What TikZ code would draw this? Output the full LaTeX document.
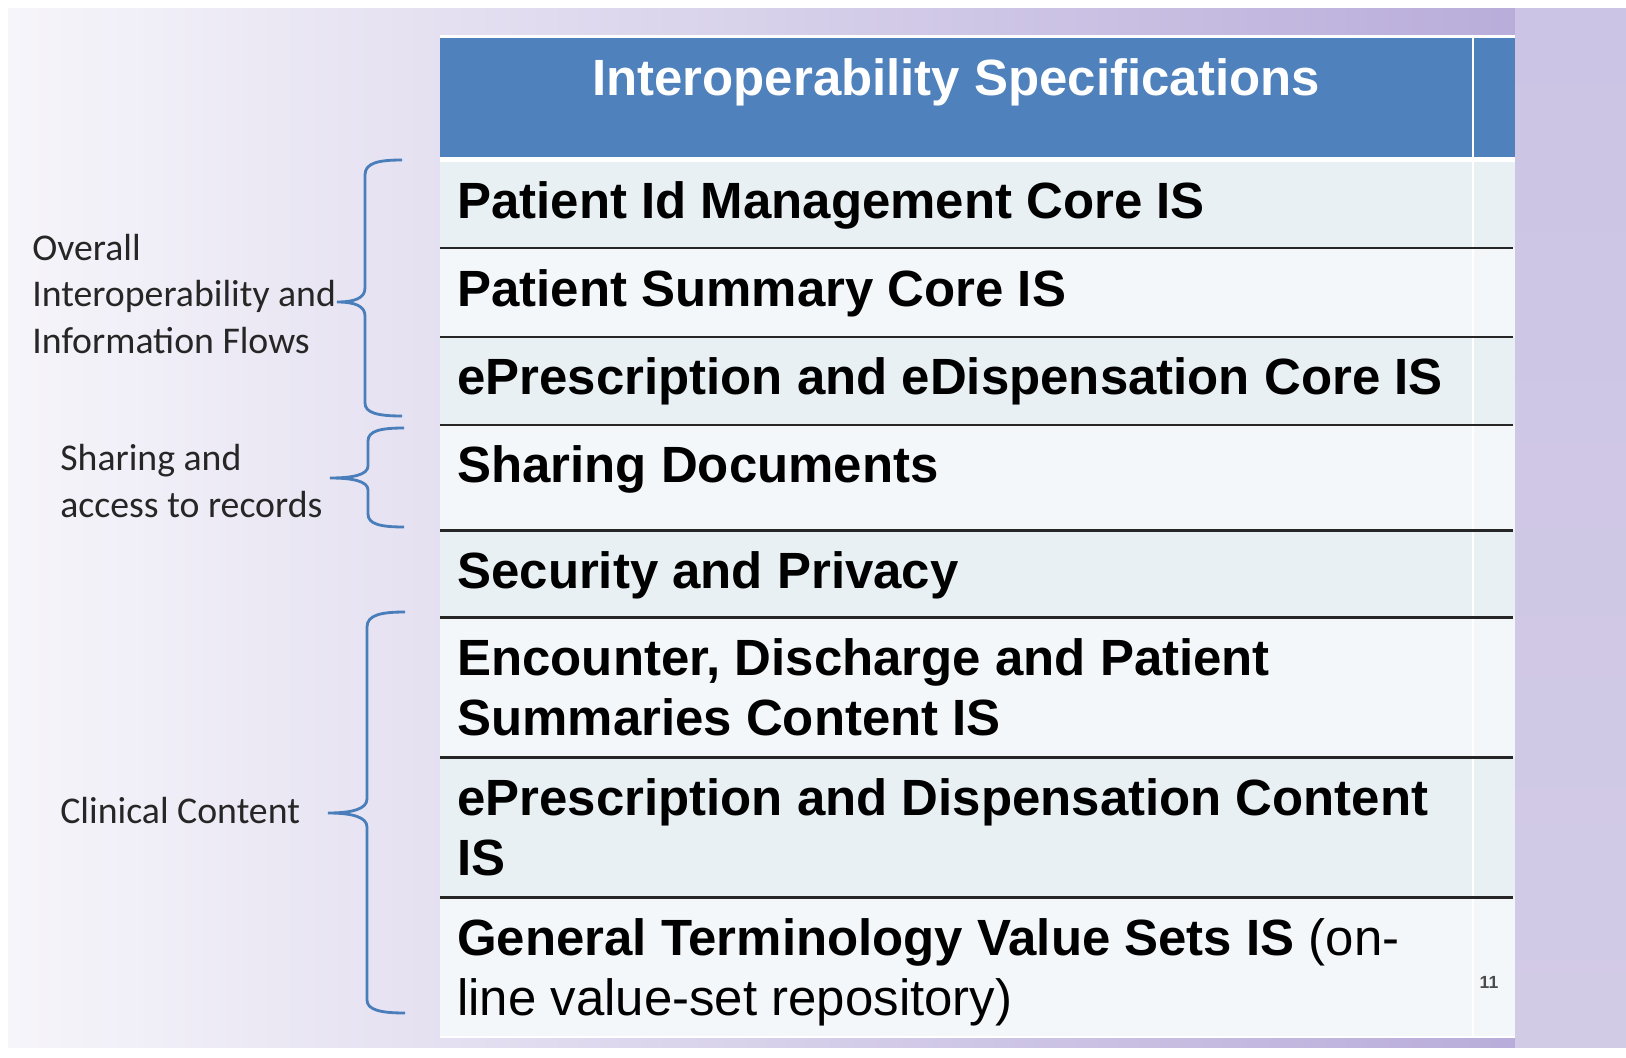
\documentclass[tikz,border=0pt]{standalone}
\usepackage{fontspec}
\setmainfont{Liberation Sans}
\newfontfamily\calibri{Carlito}
\usepackage{xcolor}
\usepackage{tikz}
\usetikzlibrary{positioning}

\definecolor{headblue}{HTML}{4F81BD}
\definecolor{banddark}{HTML}{E8F0F3}
\definecolor{bandlight}{HTML}{F3F7FA}
\definecolor{bracecol}{HTML}{4A7EBB}
\definecolor{lavlight}{HTML}{F6F5FA}
\definecolor{lavmid}{HTML}{E6E2F0}
\definecolor{lavdark}{HTML}{B4A7D8}
\definecolor{lavtop}{HTML}{CCC4E4}
\definecolor{lavbot}{HTML}{D2CBE6}
\definecolor{labelgray}{HTML}{262626}

\begin{document}
\begin{tikzpicture}[x=0.02cm, y=-0.02cm,
      cell/.style={anchor=base west, inner sep=0pt, align=left, font=\bfseries\fontsize{29}{34}\selectfont},
      head/.style={anchor=base, inner sep=0pt, text=white, font=\bfseries\fontsize{29}{34}\selectfont},
      side/.style={anchor=base west, inner sep=0pt, align=left, text=labelgray, font=\calibri\fontsize{21.5}{26.3}\selectfont},
      brace/.style={draw=bracecol, line width=1.6pt},
      rowline/.style={draw=black!85, line width=1.7pt}
    ]
      \useasboundingbox (0,0) rectangle (1626,1058);

      % Background
      \fill[white] (0,0) rectangle (1626,1058);
      \shade[left color=lavlight, middle color=lavmid, right color=lavdark] (8,8) rectangle (1626,1047);
      \shade[top color=lavtop, middle color=lavdark, bottom color=lavbot] (1515,8) rectangle (1626,1047);

      % Table
      \fill[white] (440,35) rectangle (1515,1038);
      \fill[headblue] (440,38) rectangle (1515,157);
      \fill[banddark] (440,162) rectangle (1515,248);
      \fill[bandlight] (440,248) rectangle (1515,337);
      \fill[banddark] (440,337) rectangle (1515,425);
      \fill[bandlight] (440,425) rectangle (1515,530);
      \fill[banddark] (440,530) rectangle (1515,617);
      \fill[bandlight] (440,617) rectangle (1515,757);
      \fill[banddark] (440,757) rectangle (1515,897);
      \fill[bandlight] (440,897) rectangle (1515,1036);
      \draw[white, line width=1pt] (1473,35) -- (1473,1038);

      % Lines
      \draw[rowline] (440,248) -- (1513,248);
      \draw[rowline] (440,337) -- (1513,337);
      \draw[rowline] (440,425) -- (1513,425);
      \draw[rowline] (440,530) -- (1513,530);
      \draw[rowline] (440,617) -- (1513,617);
      \draw[rowline] (440,757) -- (1513,757);
      \draw[rowline] (440,897) -- (1513,897);

      % Cells (multi-line ones sit on their last baseline)
      \node[head] (title) at (956,95) {Interoperability Specifications};
      \node[cell] (row1) at (457,218) {Patient Id Management Core IS};
      \node[cell] (row2) at (457,306) {Patient Summary Core IS};
      \node[cell] (row3) at (457,394) {ePrescription and eDispensation Core IS};
      \node[cell] (row4) at (457,482) {Sharing Documents};
      \node[cell] (row5) at (457,588) {Security and Privacy};
      \node[cell] (row6) at (457,735) {Encounter, Discharge and Patient\\
        Summaries Content IS};
      \node[cell] (row7) at (457,875) {ePrescription and Dispensation Content\\
        IS};
      \node[cell] (row8) at (457,1015) {General Terminology Value Sets IS {\mdseries (on-}\\
        {\mdseries line value-set repository)}};
      \node[anchor=base, inner sep=0pt, text=black!70, font=\bfseries\fontsize{10}{12}\selectfont] (pagenum) at (1489,988) {11};

      % Groups
      \node[side] (grp1) at (32,353) {Overall\\
        Interoperability and\\
        Information Flows};
      \node[side] (grp2) at (60,517) {Sharing and\\
        access to records};
      \node[side] (grp3) at (60,823) {Clinical Content};

      % Braces
      \draw[brace] (402,160) .. controls (378,160) and (365,163) .. (365,175) -- (365,288)
        .. controls (365,298) and (355,302) .. (337,302)
        .. controls (355,302) and (365,306) .. (365,316) -- (365,403)
        .. controls (365,413) and (378,416) .. (402,416);
      \draw[brace] (404,428) .. controls (380,428) and (368,431) .. (368,441) -- (368,466)
        .. controls (368,475) and (352,478) .. (330,478)
        .. controls (352,478) and (368,481) .. (368,490) -- (368,514)
        .. controls (368,524) and (380,527) .. (404,527);
      \draw[brace] (405,612) .. controls (381,612) and (367,615) .. (367,627) -- (367,799)
        .. controls (367,809) and (352,813) .. (328,813)
        .. controls (352,813) and (367,817) .. (367,827) -- (367,1000)
        .. controls (367,1010) and (381,1013) .. (405,1013);
    \end{tikzpicture}
\end{document}
